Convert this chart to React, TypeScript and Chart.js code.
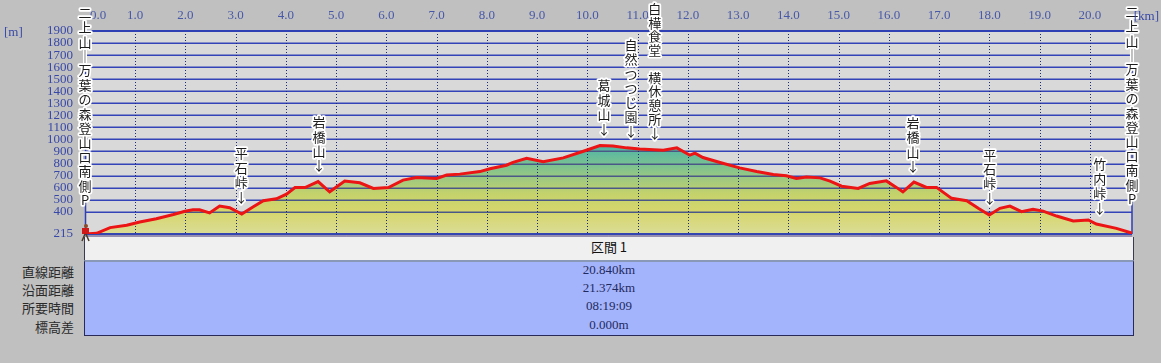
import React, { useEffect, useRef } from 'react';
import { Chart, registerables } from 'chart.js';

Chart.register(...registerables);

// ---- data ----
const distanceKm = [
  0.0, 0.23, 0.5, 0.83, 1.09, 1.42, 1.76, 1.99, 2.15, 2.28, 2.48, 2.68, 2.88, 3.12, 3.35, 3.55, 3.81, 4.01,
  4.18, 4.38, 4.64, 4.87, 5.17, 5.47, 5.74, 6.04, 6.33, 6.6, 7.0, 7.2, 7.46, 7.86, 8.06, 8.39, 8.52, 8.79,
  9.12, 9.52, 9.92, 10.25, 10.51, 10.78, 11.04, 11.51, 11.78, 12.04, 12.14, 12.3, 12.64, 13.03, 13.37, 13.7,
  13.96, 14.16, 14.36, 14.63, 14.83, 15.06, 15.39, 15.62, 15.95, 16.15, 16.28, 16.5, 16.75, 16.95, 17.25,
  17.55, 17.78, 18.0, 18.21, 18.41, 18.64, 18.87, 19.07, 19.34, 19.67, 19.97, 20.13, 20.53, 20.84,
];
const elevationM = [
  215, 221, 268, 287, 314, 342, 377, 404, 416, 416, 390, 447, 433, 381, 441, 491, 507, 546,
  600, 600, 650, 565, 654, 640, 593, 600, 662, 684, 676, 704, 712, 733, 757, 786, 810, 844,
  814, 847, 902, 949, 946, 930, 921, 911, 930, 869, 886, 850, 809, 764, 734, 709,
  698, 676, 689, 681, 654, 612, 593, 635, 656, 602, 565, 646, 602, 602, 511,
  491, 428, 372, 428, 447, 400, 420, 405, 364, 323, 331, 298, 262, 222,
];
const xTickValues = [0, 1, 2, 3, 4, 5, 6, 7, 8, 9, 10, 11, 12, 13, 14, 15, 16, 17, 18, 19, 20];
const yTickValues = [215, 400, 500, 600, 700, 800, 900, 1000, 1100, 1200, 1300, 1400, 1500, 1600, 1700, 1800, 1900];
const landmarkNames = [
  '二上山ー万葉の森登山口南側P',
  '平石峠↓',
  '岩橋山↓',
  '葛城山↓',
  '自然つつじ園↓',
  '白樺食堂　横休憩所↓',
  '岩橋山↓',
  '平石峠↓',
  '竹内峠↓',
  '二上山ー万葉の森登山口南側P',
];
const landmarkKm = [0, 3.11, 4.66, 10.33, 10.87, 11.34, 16.48, 18.01, 20.2, 20.84];
const sectionTitle = '区間 1';
const summaryLabels = ['直線距離', '沿面距離', '所要時間', '標高差'];
const summaryValues = ['20.840km', '21.374km', '08:19:09', '0.000m'];
const xUnit = '[km]';
const yUnit = '[m]';

const profilePoints = distanceKm.map((d, i) => ({ x: d, y: elevationM[i] }));

function elevAt(km: number): number {
  for (let i = 1; i < distanceKm.length; i++) {
    if (km <= distanceKm[i]) {
      const t = (km - distanceKm[i - 1]) / (distanceKm[i] - distanceKm[i - 1]);
      return elevationM[i - 1] + t * (elevationM[i] - elevationM[i - 1]);
    }
  }
  return elevationM[elevationM.length - 1];
}

const SERIF = '"Liberation Serif", "DejaVu Serif", serif';
const GOTHIC = '"Noto Sans CJK JP", "Noto Sans", sans-serif';

const decorPlugin = {
  id: 'profileDecor',
  beforeDatasetsDraw(chart: any) {
    const { ctx, chartArea: a, scales } = chart;
    ctx.save();
    ctx.fillStyle = '#d9d9d9';
    ctx.fillRect(a.left, a.top, a.right - a.left, a.bottom - a.top);
    ctx.strokeStyle = '#3444b8';
    ctx.lineWidth = 1.5;
    yTickValues.forEach((v) => {
      if (v === yTickValues[0] || v === yTickValues[yTickValues.length - 1]) return;
      const y = Math.round(scales.y.getPixelForValue(v)) + 0.25;
      ctx.beginPath();
      ctx.moveTo(a.left, y);
      ctx.lineTo(a.right, y);
      ctx.stroke();
    });
    ctx.restore();
  },
  afterDatasetDraw(chart: any, args: any) {
    if (args.index !== 1) return;
    const { ctx, chartArea: a, scales } = chart;
    const pts = args.meta.data;
    const base = scales.y.getPixelForValue(yTickValues[0]);
    ctx.save();
    // grid lines inside the filled profile
    ctx.beginPath();
    ctx.moveTo(pts[0].x, base);
    pts.forEach((p: any) => ctx.lineTo(p.x, p.y));
    ctx.lineTo(pts[pts.length - 1].x, base);
    ctx.closePath();
    ctx.clip();
    ctx.strokeStyle = '#4a5888';
    ctx.lineWidth = 1.5;
    yTickValues.forEach((v) => {
      if (v === yTickValues[0]) return;
      const y = Math.round(scales.y.getPixelForValue(v)) + 0.25;
      ctx.beginPath();
      ctx.moveTo(a.left, y);
      ctx.lineTo(a.right, y);
      ctx.stroke();
    });
    ctx.restore();

    ctx.save();
    // vertical dotted grid
    ctx.strokeStyle = '#1c2a78';
    ctx.lineWidth = 1;
    ctx.setLineDash([1, 2]);
    xTickValues.forEach((v) => {
      if (v === 0) return;
      const x = Math.round(scales.x.getPixelForValue(v)) + 0.5;
      ctx.beginPath();
      ctx.moveTo(x, a.top);
      ctx.lineTo(x, a.bottom);
      ctx.stroke();
    });
    ctx.setLineDash([]);
    // top line
    ctx.strokeStyle = '#2f3fb4';
    ctx.lineWidth = 2;
    const yTop = scales.y.getPixelForValue(yTickValues[yTickValues.length - 1]);
    ctx.beginPath();
    ctx.moveTo(a.left, yTop);
    ctx.lineTo(a.right, yTop);
    ctx.stroke();
    // side borders
    ctx.lineWidth = 1.5;
    ctx.beginPath();
    ctx.moveTo(a.left + 0.5, a.top);
    ctx.lineTo(a.left + 0.5, a.bottom);
    ctx.moveTo(a.right, a.top);
    ctx.lineTo(a.right, a.bottom);
    ctx.stroke();
    // bottom line
    ctx.strokeStyle = '#3444b0';
    ctx.lineWidth = 2;
    ctx.beginPath();
    ctx.moveTo(a.left, base);
    ctx.lineTo(a.right, base);
    ctx.stroke();
    ctx.strokeStyle = '#6e5e9e';
    ctx.lineWidth = 1;
    ctx.beginPath();
    ctx.moveTo(a.left, base + 2);
    ctx.lineTo(a.right, base + 2);
    ctx.stroke();
    ctx.restore();
  },
  afterDatasetsDraw(chart: any) {
    const { ctx, scales } = chart;
    ctx.save();
    ctx.font = '13px ' + GOTHIC;
    ctx.textAlign = 'center';
    ctx.textBaseline = 'middle';
    ctx.lineJoin = 'round';
    landmarkNames.forEach((name, i) => {
      const km = landmarkKm[i];
      const x = scales.x.getPixelForValue(km);
      const py = scales.y.getPixelForValue(elevAt(km));
      const chars = Array.from(name);
      const isArrow = name.endsWith('↓');
      const bottomY = isArrow ? py - 17 : py - 34;
      let step = 14.4;
      if (bottomY - (chars.length - 1) * step < 9) step = (bottomY - 9) / (chars.length - 1);
      chars.forEach((c, j) => {
        if (c === '　') return;
        const ch = c === 'ー' ? '｜' : c;
        const cy = bottomY - (chars.length - 1 - j) * step;
        ctx.lineWidth = 3.5;
        ctx.strokeStyle = '#ffffff';
        ctx.strokeText(ch, x, cy);
        ctx.fillStyle = '#1c1c1c';
        ctx.fillText(ch, x, cy);
      });
    });
    // hiker icon at the start
    const hx = scales.x.getPixelForValue(distanceKm[0]);
    const hy = scales.y.getPixelForValue(elevationM[0]);
    ctx.fillStyle = '#8a4a2a';
    ctx.beginPath();
    ctx.arc(hx + 1, hy - 8, 2, 0, Math.PI * 2);
    ctx.fill();
    ctx.fillStyle = '#d01818';
    ctx.fillRect(hx - 3, hy - 6, 7, 6);
    ctx.strokeStyle = '#4a3a2a';
    ctx.lineWidth = 1.5;
    ctx.beginPath();
    ctx.moveTo(hx, hy);
    ctx.lineTo(hx - 3, hy + 7);
    ctx.moveTo(hx + 1, hy);
    ctx.lineTo(hx + 4, hy + 7);
    ctx.stroke();
    ctx.restore();
  },
  afterDraw(chart: any) {
    const { ctx } = chart;
    ctx.save();
    ctx.font = '13px ' + SERIF;
    ctx.fillStyle = '#3848a8';
    ctx.textBaseline = 'middle';
    ctx.textAlign = 'left';
    ctx.fillText(yUnit, 4, 33);
    ctx.textAlign = 'right';
    ctx.fillText(xUnit, 1159, 17);
    ctx.restore();
  },
};

export default function App() {
  const canvasRef = useRef<HTMLCanvasElement | null>(null);

  useEffect(() => {
    if (!canvasRef.current) return;
    const chart = new Chart(canvasRef.current, {
      type: 'line',
      data: {
        datasets: [
          {
            data: profilePoints,
            borderColor: '#ec1414',
            borderWidth: 3,
            pointRadius: 0,
            fill: false,
            tension: 0,
          },
          {
            data: profilePoints,
            borderWidth: 0,
            borderColor: 'rgba(0,0,0,0)',
            pointRadius: 0,
            fill: 'start',
            tension: 0,
            backgroundColor: (c: any) => {
              const ch = c.chart;
              if (!ch.chartArea) return '#c8d470';
              const ys = ch.scales.y;
              const g = ch.ctx.createLinearGradient(0, ys.getPixelForValue(215), 0, ys.getPixelForValue(960));
              g.addColorStop(0, '#dadc96');
              g.addColorStop(0.25, '#d6d66c');
              g.addColorStop(0.45, '#c4d26c');
              g.addColorStop(0.58, '#a6ca7c');
              g.addColorStop(0.76, '#7cc290');
              g.addColorStop(1, '#4cb4a8');
              return g;
            },
          },
        ],
      },
      options: {
        responsive: false,
        animation: false,
        devicePixelRatio: 1,
        parsing: true,
        layout: { padding: { left: 0, top: 0, right: 29, bottom: 129 } },
        plugins: { legend: { display: false }, tooltip: { enabled: false } },
        scales: {
          x: {
            type: 'linear',
            position: 'top',
            min: 0,
            max: 20.84,
            grid: { display: false, drawTicks: false },
            border: { display: false },
            afterBuildTicks: (s: any) => {
              s.ticks = xTickValues.map((v) => ({ value: v }));
            },
            afterFit: (s: any) => {
              s.height = 31;
            },
            ticks: {
              autoSkip: false,
              maxRotation: 0,
              padding: 8,
              color: '#4858a8',
              font: { family: SERIF, size: 13 },
              callback: (v: any) => (v === 0 ? '\u2007\u2007\u2007\u20070.0' : Number(v).toFixed(1)),
            },
          },
          y: {
            type: 'linear',
            min: 215,
            max: 1900,
            grid: { display: false, drawTicks: false },
            border: { display: false },
            afterBuildTicks: (s: any) => {
              s.ticks = yTickValues.map((v) => ({ value: v }));
            },
            afterFit: (s: any) => {
              s.width = 85;
            },
            ticks: {
              autoSkip: false,
              padding: 12,
              color: '#3848a8',
              font: { family: SERIF, size: 13 },
              callback: (v: any) => String(v),
            },
          },
        },
      },
      plugins: [decorPlugin],
    } as any);
    return () => chart.destroy();
  }, []);

  const rowTop = 262;
  const rowH = 18.2;
  return (
    <div
      style={{
        position: 'absolute',
        left: 0,
        top: 0,
        width: 1161,
        height: 363,
        background: '#c0c0c0',
        overflow: 'hidden',
      }}
    >
      <div
        style={{
          position: 'absolute',
          left: 84,
          top: 237,
          width: 1048,
          height: 23,
          background: '#f0f0f0',
          borderLeft: '1px solid #3a3a50',
          borderRight: '1px solid #3a3a50',
          textAlign: 'center',
          lineHeight: '23px',
          font: '13px ' + GOTHIC,
          color: '#111',
        }}
      >
        {sectionTitle}
      </div>
      <div
        style={{
          position: 'absolute',
          left: 84,
          top: 260,
          width: 1048,
          height: 73,
          background: '#a4b4fc',
          borderTop: '2px solid #8a98b8',
          borderLeft: '1px solid #2a2a58',
          borderRight: '1px solid #2a2a58',
          borderBottom: '1px solid #2a2a58',
        }}
      />
      {summaryValues.map((v, i) => (
        <div
          key={'v' + i}
          style={{
            position: 'absolute',
            left: 85,
            top: rowTop + i * rowH,
            width: 1048,
            height: rowH,
            lineHeight: rowH + 'px',
            textAlign: 'center',
            font: '13px ' + SERIF,
            color: '#1e2a60',
          }}
        >
          {v}
        </div>
      ))}
      {summaryLabels.map((l, i) => (
        <div
          key={'l' + i}
          style={{
            position: 'absolute',
            left: 0,
            top: rowTop + i * rowH,
            width: 74,
            height: rowH,
            lineHeight: rowH + 'px',
            textAlign: 'right',
            font: '13px ' + GOTHIC,
            color: '#2a2a2a',
          }}
        >
          {l}
        </div>
      ))}
      <canvas ref={canvasRef} width={1161} height={363} style={{ position: 'absolute', left: 0, top: 0 }} />
    </div>
  );
}
